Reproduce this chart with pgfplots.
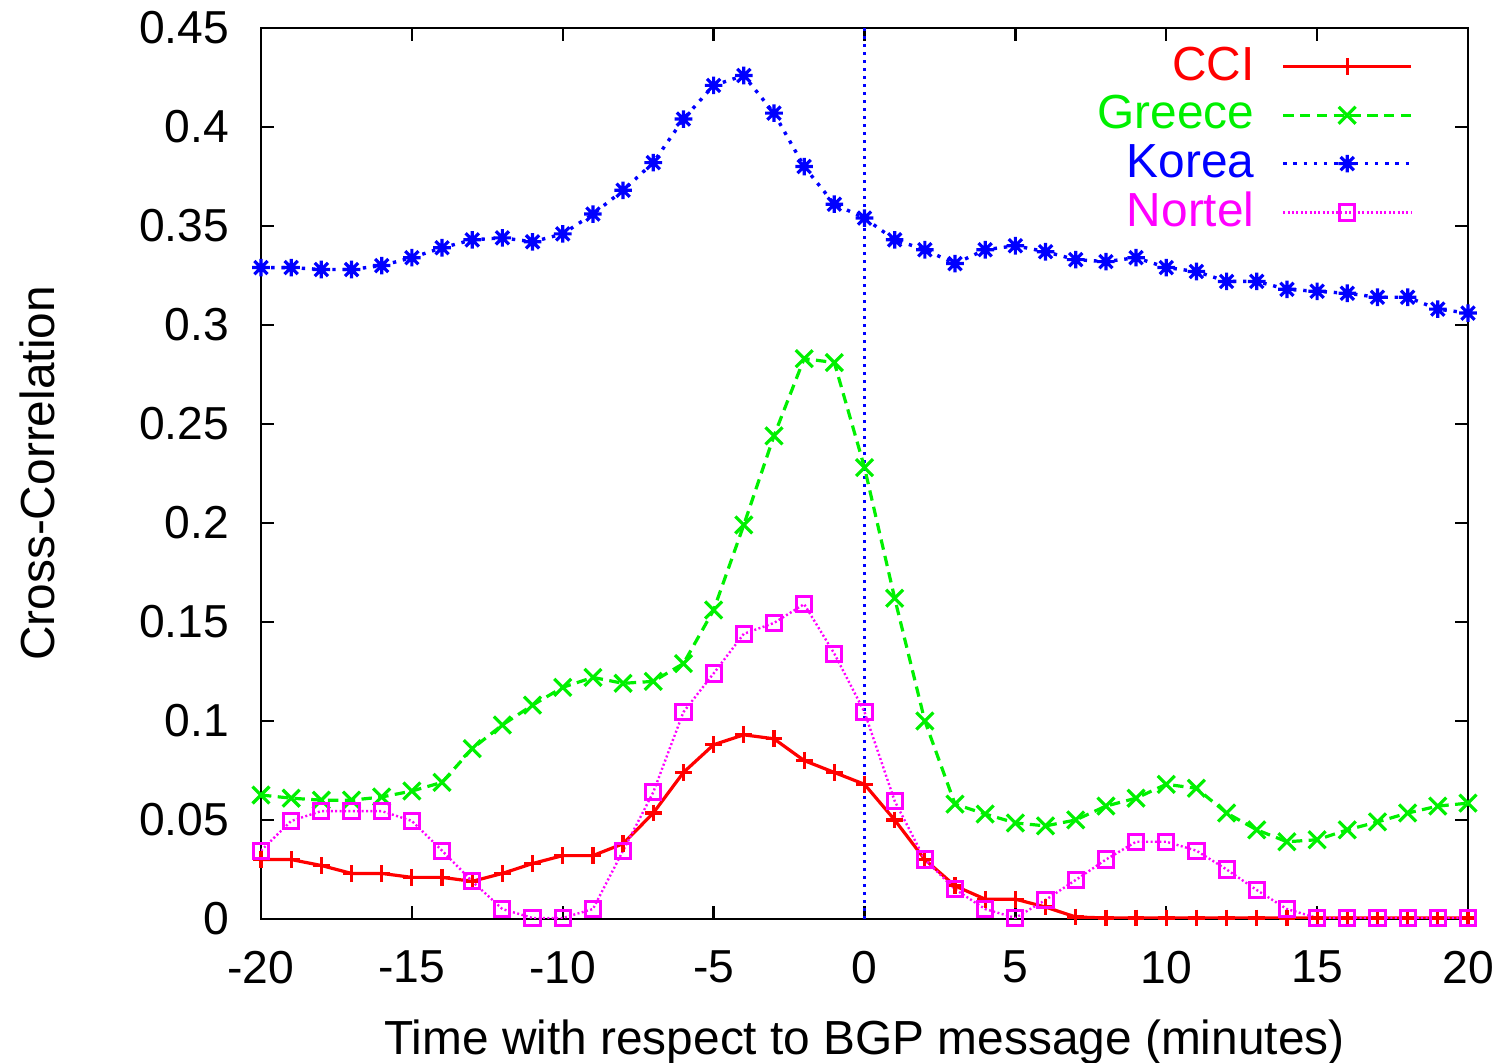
\documentclass[border=0pt]{standalone}
\usepackage{fontspec}
\setmainfont{Liberation Sans}
\usepackage{pgfplots}
\pgfplotsset{compat=1.18}

\definecolor{gpred}{RGB}{255,0,0}
\definecolor{gpgreen}{RGB}{0,240,0}
\definecolor{gpblue}{RGB}{0,0,255}
\definecolor{gpmag}{RGB}{255,0,255}

% gnuplot-style star: plus and cross together
\pgfdeclareplotmark{gstar}{%
  \pgfpathmoveto{\pgfqpoint{-\pgfplotmarksize}{0pt}}\pgfpathlineto{\pgfqpoint{\pgfplotmarksize}{0pt}}%
  \pgfpathmoveto{\pgfqpoint{0pt}{-\pgfplotmarksize}}\pgfpathlineto{\pgfqpoint{0pt}{\pgfplotmarksize}}%
  \pgfpathmoveto{\pgfqpoint{-0.75\pgfplotmarksize}{-0.75\pgfplotmarksize}}\pgfpathlineto{\pgfqpoint{0.75\pgfplotmarksize}{0.75\pgfplotmarksize}}%
  \pgfpathmoveto{\pgfqpoint{-0.75\pgfplotmarksize}{0.75\pgfplotmarksize}}\pgfpathlineto{\pgfqpoint{0.75\pgfplotmarksize}{-0.75\pgfplotmarksize}}%
  \pgfusepathqstroke}

\begin{document}
\begin{tikzpicture}[font=\fontsize{12}{14.4}\selectfont]
\begin{axis}[
  name=ax,
  scale only axis, width=301.75bp, height=222.75bp,
  xmin=-20, xmax=20, ymin=0, ymax=0.45,
  xtick={-20,-15,...,20}, xticklabels={-20,-15,-10,-5,0,5,10,15,20},
  ytick={0,0.05,...,0.45}, yticklabels={0,0.05,0.1,0.15,0.2,0.25,0.3,0.35,0.4,0.45},
  tick align=inside, major tick length=3.25bp,
  axis line style={line width=0.7bp}, tick style={line width=0.6bp, black},
  ticklabel style={font=\fontsize{11.6}{13.9}\selectfont},
  xticklabel style={inner sep=0pt, yshift=-7.75bp},
  yticklabel style={inner sep=0pt, xshift=-7.75bp},
  xlabel={Time with respect to BGP message (minutes)},
  ylabel={Cross-Correlation},
  xlabel style={at={(rel axis cs:0.5,0)}, anchor=north, inner sep=0pt, yshift=-25bp},
  ylabel style={at={(rel axis cs:0,0.5)}, anchor=center, inner sep=0pt, yshift=56bp},
  legend style={draw=none, fill=none, at={(0.955,0.9795)}, anchor=north east,
    inner sep=0pt, row sep=2.3bp, column sep=6.75bp, nodes={inner sep=0pt}},
  legend cell align=right,
  legend plot pos=right,
  legend image code/.code={\draw[mark repeat=2,mark phase=2] plot coordinates {(0bp,0bp)(16bp,0bp)(32bp,0bp)};},
]
\addplot[gpblue, line width=0.75bp, dash pattern=on 0.7bp off 1.3bp, forget plot] coordinates {(0,0)(0,0.45)};

\addplot[gpred, line width=0.8bp, mark=+, mark size=2.1bp, mark options={solid}] coordinates {
(-20,0.030)(-19,0.030)(-18,0.027)(-17,0.023)(-16,0.023)(-15,0.021)(-14,0.021)(-13,0.019)
(-12,0.023)(-11,0.028)(-10,0.032)(-9,0.032)(-8,0.038)(-7,0.0535)(-6,0.074)(-5,0.088)
(-4,0.093)(-3,0.091)(-2,0.080)(-1,0.074)(0,0.068)(1,0.050)(2,0.030)(3,0.0167)(4,0.010)
(5,0.010)(6,0.006)(7,0.001)(8,0.0005)(9,0.0005)(10,0.0005)(11,0.0005)(12,0.0005)(13,0.0005)
(14,0.0005)(15,0.0005)(16,0.0005)(17,0.0005)(18,0.0005)(19,0.0005)(20,0.0005)};
\addlegendentry{\textcolor{gpred}{CCI}}

\addplot[gpgreen, line width=0.8bp, dash pattern=on 2.6bp off 1.6bp, mark=x, mark size=3bp, mark options={solid}] coordinates {
(-20,0.0626)(-19,0.061)(-18,0.060)(-17,0.060)(-16,0.0616)(-15,0.0646)(-14,0.069)(-13,0.086)
(-12,0.098)(-11,0.108)(-10,0.117)(-9,0.122)(-8,0.119)(-7,0.120)(-6,0.129)(-5,0.156)
(-4,0.199)(-3,0.244)(-2,0.283)(-1,0.281)(0,0.228)(1,0.162)(2,0.100)(3,0.058)(4,0.053)
(5,0.0485)(6,0.047)(7,0.050)(8,0.057)(9,0.061)(10,0.068)(11,0.066)(12,0.0535)(13,0.045)
(14,0.039)(15,0.040)(16,0.045)(17,0.049)(18,0.0535)(19,0.057)(20,0.0585)};
\addlegendentry{\textcolor{gpgreen}{Greece}}

\addplot[gpblue, line width=0.85bp, dash pattern=on 0.85bp off 1.7bp, mark=gstar, mark size=2.2bp, mark options={solid, line width=0.8bp}] coordinates {
(-20,0.329)(-19,0.329)(-18,0.328)(-17,0.328)(-16,0.330)(-15,0.334)(-14,0.339)(-13,0.343)
(-12,0.344)(-11,0.342)(-10,0.346)(-9,0.356)(-8,0.368)(-7,0.382)(-6,0.404)(-5,0.421)
(-4,0.426)(-3,0.407)(-2,0.380)(-1,0.361)(0,0.354)(1,0.343)(2,0.338)(3,0.331)(4,0.338)
(5,0.340)(6,0.337)(7,0.333)(8,0.332)(9,0.334)(10,0.329)(11,0.327)(12,0.322)(13,0.322)
(14,0.318)(15,0.317)(16,0.316)(17,0.314)(18,0.314)(19,0.308)(20,0.306)};
\addlegendentry{\textcolor{gpblue}{Korea}}

\addplot[gpmag, line width=0.6bp, dash pattern=on 0.5bp off 0.6bp, mark=square, mark size=1.9bp, mark options={solid, line width=0.75bp}] coordinates {
(-20,0.0345)(-19,0.0495)(-18,0.0545)(-17,0.0545)(-16,0.0545)(-15,0.0495)(-14,0.0345)(-13,0.019)
(-12,0.005)(-11,0.0005)(-10,0.0005)(-9,0.005)(-8,0.0345)(-7,0.064)(-6,0.1045)(-5,0.124)
(-4,0.144)(-3,0.1495)(-2,0.159)(-1,0.134)(0,0.1045)(1,0.0596)(2,0.030)(3,0.015)(4,0.005)
(5,0.0005)(6,0.0096)(7,0.0197)(8,0.030)(9,0.039)(10,0.039)(11,0.0345)(12,0.025)(13,0.0146)
(14,0.005)(15,0.0005)(16,0.0005)(17,0.0005)(18,0.0005)(19,0.0005)(20,0.0005)};
\addlegendentry{\textcolor{gpmag}{Nortel}}
\end{axis}
\pgfresetboundingbox
\path[use as bounding box] ([xshift=-65.25bp,yshift=-36bp]ax.south west) rectangle ([xshift=9.5bp,yshift=7bp]ax.north east);
\end{tikzpicture}
\end{document}
